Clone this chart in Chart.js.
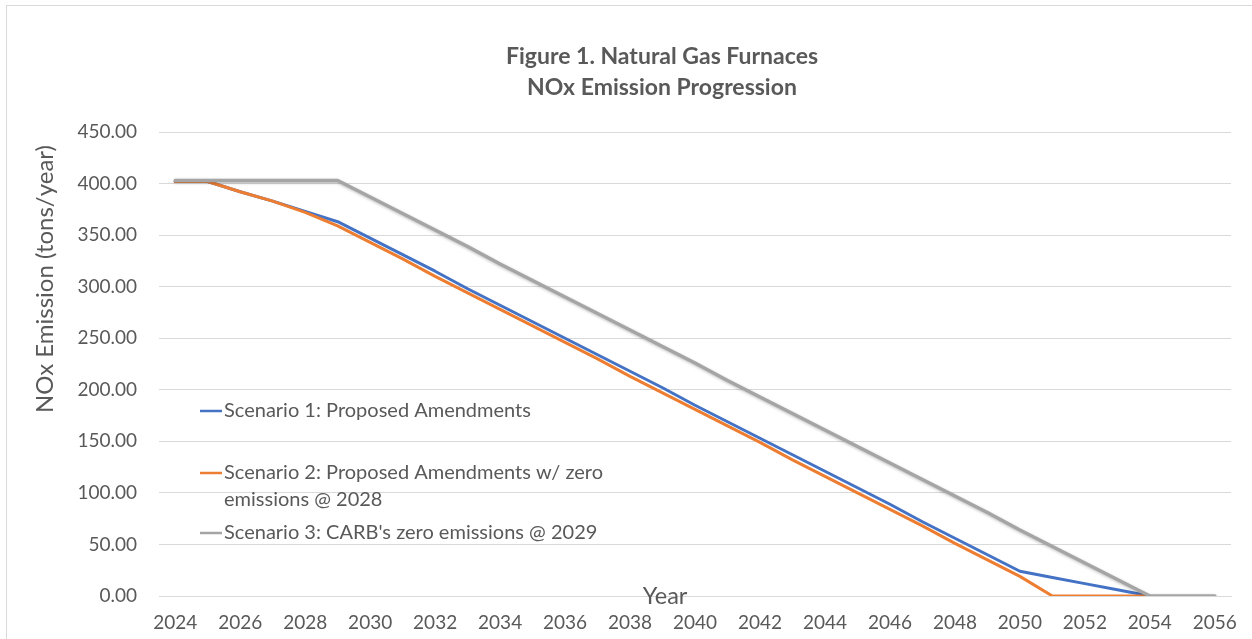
<!DOCTYPE html>
<html>
<head>
<meta charset="utf-8">
<script src="https://cdn.jsdelivr.net/npm/chart.js@4/dist/chart.umd.min.js"></script>
<style>
  html, body { margin: 0; padding: 0; background: #fff; }
  canvas { display: block; }
</style>
</head>
<body>
<canvas id="c" width="1252" height="639"></canvas>
<script>
const years = [2024,2025,2026,2027,2028,2029,2030,2031,2032,2033,2034,2035,2036,2037,2038,2039,2040,2041,2042,2043,2044,2045,2046,2047,2048,2049,2050,2051,2052,2053,2054,2055,2056];
const scenario1 = [402,402,392,383,373,363,347,331,315,298,282,266,250,234,218,202,185,169,153,137,121,105,89,72,56,40,24,18,12,6,0,null,null];
const scenario2 = [402,402,392,383,372,359,343,327,310,294,278,262,246,230,213,197,181,165,149,132,116,100,84,68,51,35,19,0,0,0,0,null,null];
const scenario3 = [403,403,403,403,403,403,387,371,355,339,322,306,290,274,258,242,226,209,193,177,161,145,129,113,97,81,64,48,32,16,0,0,0];
const seriesLabels = [
  "Scenario 1: Proposed Amendments",
  "Scenario 2: Proposed Amendments w/ zero emissions @ 2028",
  "Scenario 3: CARB's zero emissions @ 2029"
];
const yTicks = [0,50,100,150,200,250,300,350,400,450];
const titleLines = ["Figure 1. Natural Gas Furnaces", "NOx Emission Progression"];
const xTitle = "Year";
const yTitle = "NOx Emission (tons/year)";

const FONT = "Lato, 'Open Sans', sans-serif";
const TXT = "#595959";

const decor = {
  id: 'decor',
  beforeDraw(chart) {
    const ctx = chart.ctx;
    ctx.save();
    ctx.fillStyle = '#fff';
    ctx.fillRect(0, 0, chart.width, chart.height);
    ctx.strokeStyle = '#d9d9d9';
    ctx.lineWidth = 1;
    ctx.strokeRect(6.5, 5.5, 1400, 800);
    ctx.restore();
  },
  afterDraw(chart) {
    const ctx = chart.ctx;
    ctx.save();
    ctx.fillStyle = TXT;
    ctx.textAlign = 'center';
    ctx.textBaseline = 'middle';
    ctx.font = "bold 23px " + FONT;
    ctx.fillText(titleLines[0], 662, 57);
    ctx.fillText(titleLines[1], 662, 88);
    // x title
    ctx.font = "23.5px " + FONT;
    ctx.fillText(xTitle, 665, 596);
    // y title
    ctx.save();
    ctx.translate(45, 279);
    ctx.rotate(-Math.PI / 2);
    ctx.font = "24px " + FONT;
    ctx.fillText(yTitle, 0, 0);
    ctx.restore();
    // legend
    const legendY = [411, 473, 533];
    ctx.font = "20px " + FONT;
    ctx.textAlign = 'left';
    chart.data.datasets.forEach((ds, i) => {
      const y = legendY[i];
      ctx.strokeStyle = ds.borderColor;
      ctx.lineWidth = 2.5;
      ctx.beginPath();
      ctx.moveTo(200, y);
      ctx.lineTo(222, y);
      ctx.stroke();
      ctx.fillStyle = TXT;
      const words = ds.label.split(' ');
      let line = '';
      let ly = y;
      const maxW = 400;
      words.forEach((w) => {
        const test = line ? line + ' ' + w : w;
        if (ctx.measureText(test).width > maxW && line) {
          ctx.fillText(line, 224, ly);
          line = w;
          ly += 27;
        } else {
          line = test;
        }
      });
      ctx.fillText(line, 224, ly);
    });
    ctx.restore();
  }
};

const shadowPlugin = {
  id: 'shadowPlugin',
  beforeDatasetDraw(chart, args) {
    if (args.index === 2) {
      chart.ctx.save();
      chart.ctx.shadowColor = 'rgba(0,0,0,0.25)';
      chart.ctx.shadowBlur = 3;
      chart.ctx.shadowOffsetY = 1;
    }
  },
  afterDatasetDraw(chart, args) {
    if (args.index === 2) chart.ctx.restore();
  }
};

new Chart(document.getElementById('c'), {
  type: 'line',
  data: {
    labels: years.map(String),
    datasets: [
      { label: seriesLabels[0], data: scenario1, borderColor: '#4472C4', borderWidth: 3, order: 3 },
      { label: seriesLabels[1], data: scenario2, borderColor: '#ED7D31', borderWidth: 3, order: 2 },
      { label: seriesLabels[2], data: scenario3, borderColor: '#A5A5A5', borderWidth: 3.5, order: 1 }
    ]
  },
  options: {
    responsive: false,
    animation: false,
    devicePixelRatio: 1,
    layout: { padding: { left: 0, right: 10, top: 132, bottom: 0 } },
    elements: {
      point: { radius: 0, hoverRadius: 0 },
      line: { tension: 0, borderCapStyle: 'round', borderJoinStyle: 'round', spanGaps: false }
    },
    plugins: {
      legend: { display: false },
      title: { display: false },
      tooltip: { enabled: false }
    },
    scales: {
      x: {
        type: 'category',
        offset: true,
        grid: { display: false, drawTicks: false },
        border: { display: true, color: '#d9d9d9' },
        ticks: {
          autoSkip: false,
          maxRotation: 0,
          padding: 15,
          color: TXT,
          font: { family: FONT, size: 19 },
          callback: function(v, i) { return i % 2 === 0 ? this.getLabelForValue(v) : ''; }
        },
        afterFit(s) { s.height = 43; }
      },
      y: {
        min: 0,
        max: 450,
        afterBuildTicks(s) { s.ticks = yTicks.map(v => ({ value: v })); },
        grid: { color: '#d9d9d9', lineWidth: 1, drawTicks: false },
        border: { display: false },
        ticks: {
          padding: 22,
          color: TXT,
          font: { family: FONT, size: 19 },
          callback: (v) => Number(v).toFixed(2)
        },
        afterFit(s) { s.width = 159; }
      }
    }
  },
  plugins: [decor, shadowPlugin]
});
</script>
</body>
</html>
